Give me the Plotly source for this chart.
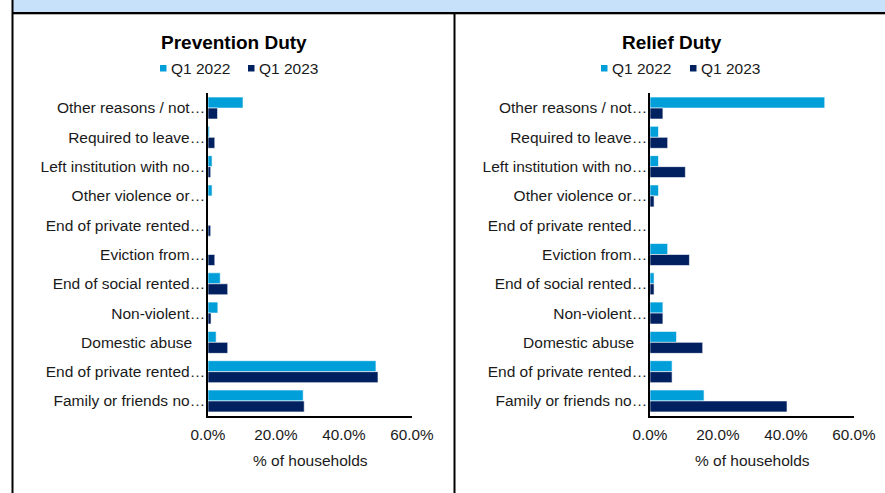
import plotly.graph_objects as go

W, H = 885, 493

# Reasons for loss of last settled home (truncated labels as displayed)
categories = [
    "Other reasons / not…",
    "Required to leave…",
    "Left institution with no…",
    "Other violence or…",
    "End of private rented…",
    "Eviction from…",
    "End of social rented…",
    "Non-violent…",
    "Domestic abuse\u00a0\u00a0\u00a0",
    "End of private rented…",
    "Family or friends no…",
]

# % of households
prevention_q1_2022 = [10.3, 0.4, 1.2, 1.2, 0.0, 0.0, 3.6, 2.9, 2.4, 49.4, 28.0]
prevention_q1_2023 = [2.8, 2.0, 0.8, 0.0, 0.8, 2.0, 5.8, 0.9, 5.8, 50.0, 28.3]
relief_q1_2022 = [51.4, 2.5, 2.5, 2.5, 0.0, 5.2, 1.2, 3.8, 7.8, 6.5, 15.9]
relief_q1_2023 = [3.8, 5.2, 10.4, 1.2, 0.0, 11.6, 1.2, 3.8, 15.5, 6.5, 40.3]

series_names = ["Q1 2022", "Q1 2023"]
panel_titles = ["Prevention Duty", "Relief Duty"]
x_ticks = [0, 20, 40, 60]
x_tick_labels = ["%.1f%%" % v for v in x_ticks]
x_title = "% of households"

LIGHT = "#009FDA"
NAVY = "#002060"
FONT = "Liberation Sans, Arial, sans-serif"
TXT = "#1a1a1a"


def px(x):
    return x / W


def py(y):
    return 1 - y / H


pos = list(range(len(categories)))

fig = go.Figure()
panels = [
    ("x", "y", prevention_q1_2022, prevention_q1_2023),
    ("x2", "y2", relief_q1_2022, relief_q1_2023),
]
for xa, ya, a, b in panels:
    for name, vals, col in zip(series_names, [a, b], [LIGHT, NAVY]):
        fig.add_trace(go.Bar(
            x=vals, y=pos, orientation="h", name=name,
            marker=dict(color=col, line=dict(color="white", width=0.6)),
            xaxis=xa, yaxis=ya, showlegend=False,
        ))

y_dom = [py(415.6), py(93.4)]
x_doms = [[px(208), px(412)], [px(650), px(854)]]

axis_common = dict(
    range=[0, 60], tickvals=x_ticks, ticktext=x_tick_labels,
    showgrid=False, zeroline=False, showline=True, linecolor="black",
    linewidth=1.5, ticks="", ticklabelstandoff=4, automargin=False,
    tickfont=dict(family=FONT, size=15.3, color=TXT), fixedrange=True,
)
yaxis_common = dict(
    range=[10.5, -0.5], tickvals=pos, ticktext=categories,
    showgrid=False, zeroline=False, showline=True, linecolor="black",
    linewidth=1.5, ticks="", ticklabelstandoff=-2, automargin=False,
    tickfont=dict(family=FONT, size=15.5, color=TXT), fixedrange=True,
)

fig.update_layout(
    width=W, height=H, autosize=False,
    margin=dict(l=0, r=0, t=0, b=0, pad=0, autoexpand=False),
    paper_bgcolor="white", plot_bgcolor="white",
    barmode="group", bargap=0.25, bargroupgap=0,
    showlegend=False,
    xaxis=dict(domain=x_doms[0], anchor="y", **axis_common),
    yaxis=dict(domain=y_dom, anchor="x", **yaxis_common),
    xaxis2=dict(domain=x_doms[1], anchor="y2", **axis_common),
    yaxis2=dict(domain=y_dom, anchor="x2", **yaxis_common),
)

shapes = []
annotations = []

# Header band and frame lines
shapes.append(dict(type="rect", xref="paper", yref="paper",
                   x0=px(13), x1=1, y0=py(12), y1=1,
                   fillcolor="#C6E1F9", line=dict(width=0), layer="below"))
shapes.append(dict(type="line", xref="paper", yref="paper",
                   x0=px(12), x1=1, y0=py(14.5), y1=py(14.5),
                   line=dict(color="#b0b0b0", width=1)))
shapes.append(dict(type="line", xref="paper", yref="paper",
                   x0=px(12), x1=1, y0=py(13), y1=py(13),
                   line=dict(color="black", width=2)))
shapes.append(dict(type="line", xref="paper", yref="paper",
                   x0=px(12.5), x1=px(12.5), y0=0, y1=1,
                   line=dict(color="black", width=2)))
shapes.append(dict(type="line", xref="paper", yref="paper",
                   x0=px(454.5), x1=px(454.5), y0=0, y1=py(13),
                   line=dict(color="black", width=2)))

# Panel titles, legends and axis titles
title_x = [234, 672]
legend_sq = [[160, 248], [601, 690]]
axis_title_x = [310, 752]
for i in range(2):
    annotations.append(dict(
        text="<b>%s</b>" % panel_titles[i], x=px(title_x[i]), y=py(42),
        xref="paper", yref="paper", showarrow=False,
        xanchor="center", yanchor="middle",
        font=dict(family=FONT, size=19, color="black")))
    for sx, name, col in zip(legend_sq[i], series_names, [LIGHT, NAVY]):
        shapes.append(dict(type="rect", xref="paper", yref="paper",
                           x0=px(sx), x1=px(sx + 6.5),
                           y0=py(71.5), y1=py(65),
                           fillcolor=col, line=dict(width=0)))
        annotations.append(dict(
            text=name, x=px(sx + 9), y=py(68.5),
            xref="paper", yref="paper", showarrow=False,
            xanchor="left", yanchor="middle",
            font=dict(family=FONT, size=15.5, color=TXT)))
    annotations.append(dict(
        text=x_title, x=px(axis_title_x[i]), y=py(460),
        xref="paper", yref="paper", showarrow=False,
        xanchor="center", yanchor="middle",
        font=dict(family=FONT, size=15.5, color=TXT)))

fig.update_layout(shapes=shapes, annotations=annotations)

fig.write_html("out.html")
